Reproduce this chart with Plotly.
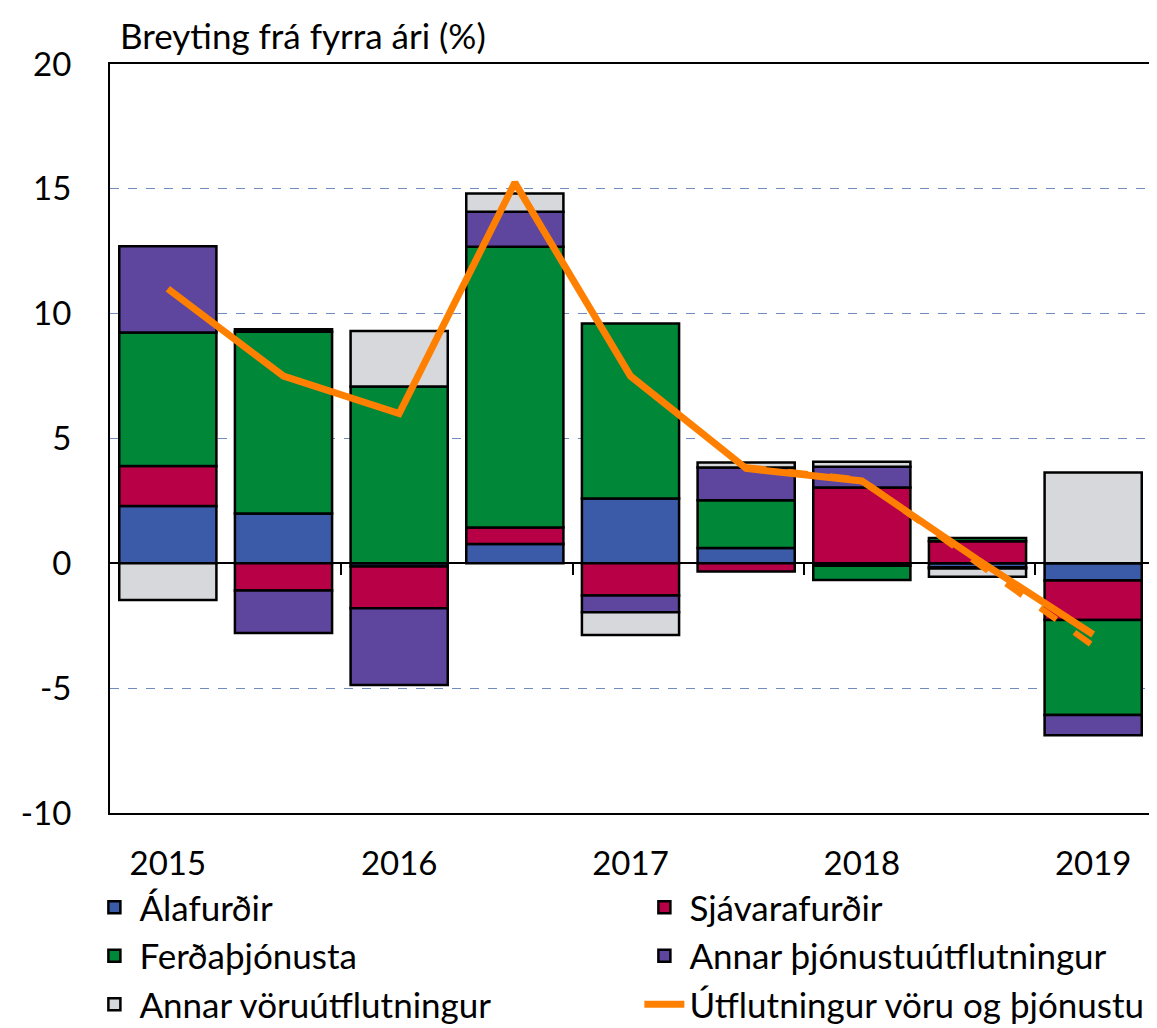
import plotly.graph_objects as go

periods = ["2015 F", "2015 S", "2016 F", "2016 S", "2017 F", "2017 S", "2018 F", "2018 S", "2019 F"]
year_labels = ["2015", "2016", "2017", "2018", "2019"]
y_ticks = [-10, -5, 0, 5, 10, 15, 20]
y_tick_labels = ["-10", "-5", "0", "5", "10", "15", "20"]

alafurdir = [2.3, 2.0, -0.13, 0.77, 2.6, 0.61, -0.1, -0.16, -0.69]
sjavarafurdir = [1.6, -1.09, -1.67, 0.67, -1.29, -0.33, 3.04, 0.88, -1.58]
ferdathjonusta = [5.35, 7.28, 7.08, 11.24, 7.01, 1.92, -0.57, 0.13, -3.8]
annar_thjon = [3.45, -1.7, -3.07, 1.4, -0.67, 1.31, 0.83, -0.05, -0.82]
annar_voru = [-1.47, 0.1, 2.23, 0.73, -0.91, 0.2, 0.2, -0.33, 3.64]
utflutningur = [11.0, 7.5, 6.0, 15.25, 7.5, 3.8, 3.3, 0.15, -2.85]
utflutningur_spa = [None, None, None, None, None, 3.85, 3.35, 0.0, -3.3]

FONT = "Lato"
x = list(range(len(periods)))

series = [
    ("Álafurðir", alafurdir, "#3B5BA8"),
    ("Sjávarafurðir", sjavarafurdir, "#B70046"),
    ("Ferðaþjónusta", ferdathjonusta, "#008838"),
    ("Annar þjónustuútflutningur", annar_thjon, "#5E459E"),
    ("Annar vöruútflutningur", annar_voru, "#D6D8DB"),
]

fig = go.Figure()
for name, vals, col in series:
    fig.add_trace(go.Bar(
        x=x, y=vals, name=name, marker=dict(color=col, line=dict(color="black", width=2.5)),
        hovertext=periods,
    ))

fig.add_trace(go.Scatter(
    x=x, y=utflutningur_spa, mode="lines", showlegend=False, xaxis="x2",
    line=dict(color="#FF8000", width=6, dash="20px,22px"), hoverinfo="skip",
))
fig.add_trace(go.Scatter(
    x=x, y=utflutningur, mode="lines", name="Útflutningur vöru og þjónustu",
    line=dict(color="#FF8000", width=7), hovertext=periods,
))

W, H = 1149, 1020
rng = [-0.5, len(periods) - 0.5]
fig.update_layout(
    width=W, height=H,
    margin=dict(l=102, r=6, t=56, b=215, autoexpand=False),
    paper_bgcolor="white", plot_bgcolor="white",
    barmode="relative", bargap=0.16,
    font=dict(family=FONT, size=33, color="#000"),
    title=dict(text="Breyting frá fyrra ári (%)", x=112 / W, xanchor="left",
               y=1 - 29 / H, yanchor="middle", font=dict(family=FONT, size=35, color="#000")),
    xaxis=dict(range=rng, tickvals=[x[i] for i in range(0, len(x), 2)], ticktext=year_labels,
               ticks="", showline=True, linecolor="black", linewidth=2, mirror=True,
               showgrid=False, zeroline=False, ticklabelstandoff=20),
    xaxis2=dict(range=rng, overlaying="x", anchor="free", position=1 / 3, side="bottom",
                tickvals=[x[i] + 0.5 for i in range(1, len(x) - 1, 2)], ticks="outside",
                ticklen=11, tickwidth=2, tickcolor="black", showticklabels=False,
                showline=False, showgrid=False, zeroline=False),
    yaxis=dict(range=[-10, 20], tickvals=y_ticks, ticktext=y_tick_labels,
               showline=True, linecolor="black", linewidth=2, mirror=True,
               showgrid=True, griddash="dash", gridcolor="#6F8CBF", gridwidth=1,
               zeroline=True, zerolinecolor="black", zerolinewidth=2, ticks="",
               ticklabelstandoff=30),
    legend=dict(orientation="h", x=-0.0198, xanchor="left", y=-0.0867, yanchor="top",
                entrywidth=495, traceorder="normal", font=dict(family=FONT, size=35, color="#000"),
                itemwidth=40, bgcolor="rgba(0,0,0,0)"),
    showlegend=True,
)

fig.write_html("out.html")
